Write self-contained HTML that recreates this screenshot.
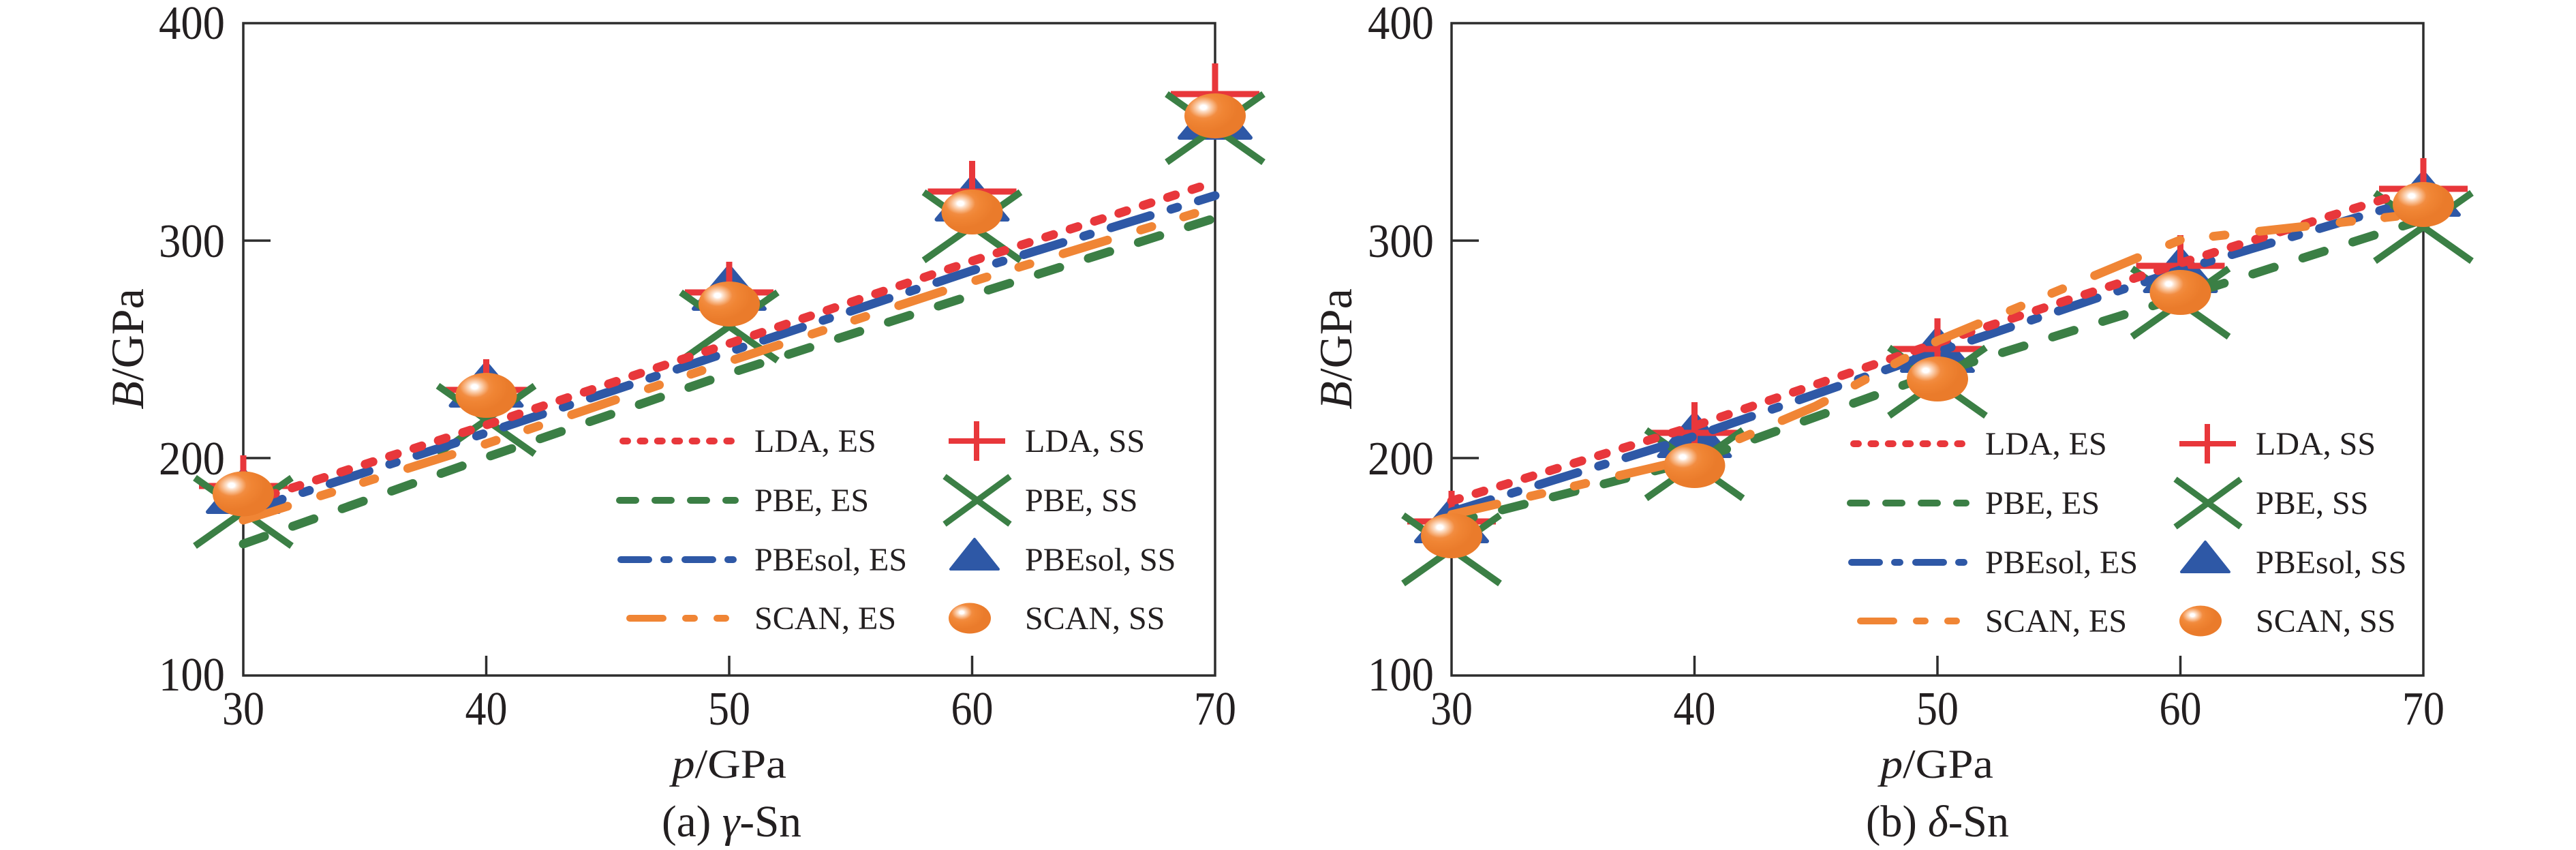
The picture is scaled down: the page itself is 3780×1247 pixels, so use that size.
<!DOCTYPE html>
<html>
<head>
<meta charset="utf-8">
<style>
  html,body{margin:0;padding:0;background:#fff;}
  svg{display:block;}
  svg text{font-family:"Liberation Serif", serif;fill:#231f20;}
</style>
</head>
<body>
<svg width="3780" height="1247" viewBox="0 0 3780 1247" xmlns="http://www.w3.org/2000/svg" font-family="'Liberation Serif', serif">
<defs>
  <radialGradient id="ball" cx="0.31" cy="0.31" r="0.55" fx="0.31" fy="0.31">
    <stop offset="0" stop-color="#ffffff"/>
    <stop offset="0.09" stop-color="#ffffff"/>
    <stop offset="0.16" stop-color="#fde2cd"/>
    <stop offset="0.30" stop-color="#f8b684"/>
    <stop offset="0.44" stop-color="#f28c40"/>
    <stop offset="0.6" stop-color="#f08534"/>
    <stop offset="1" stop-color="#ea7b2b"/>
  </radialGradient>
</defs>
<rect width="3780" height="1247" fill="#fff"/>

<!-- ================= LEFT PLOT ================= -->
<g fill="none" stroke="#2d2d2d" stroke-width="3.5">
  <rect x="357" y="34" width="1426" height="957"/>
  <path d="M357 672 H397 M357 353 H397 M713.5 991 V962 M1070 991 V962 M1426.5 991 V962"/>
</g>
<g font-size="70" font-family="'Liberation Serif', serif">
  <text x="233" y="57" textLength="97" lengthAdjust="spacingAndGlyphs">400</text>
  <text x="233" y="377" textLength="97" lengthAdjust="spacingAndGlyphs">300</text>
  <text x="233" y="696" textLength="97" lengthAdjust="spacingAndGlyphs">200</text>
  <text x="233" y="1013" textLength="97" lengthAdjust="spacingAndGlyphs">100</text>
  <text x="326" y="1063" textLength="62" lengthAdjust="spacingAndGlyphs">30</text>
  <text x="682.5" y="1063" textLength="62" lengthAdjust="spacingAndGlyphs">40</text>
  <text x="1039" y="1063" textLength="62" lengthAdjust="spacingAndGlyphs">50</text>
  <text x="1395.5" y="1063" textLength="62" lengthAdjust="spacingAndGlyphs">60</text>
  <text x="1752" y="1063" textLength="62" lengthAdjust="spacingAndGlyphs">70</text>
</g>
<text transform="translate(210,512) rotate(-90)" text-anchor="middle" font-size="68" font-family="'Liberation Serif', serif"><tspan font-style="italic">B</tspan>/GPa</text>
<text x="986" y="1141" font-size="60" textLength="168" lengthAdjust="spacingAndGlyphs" font-family="'Liberation Serif', serif"><tspan font-style="italic">p</tspan>/GPa</text>
<text x="971" y="1227" font-size="66" textLength="205" lengthAdjust="spacingAndGlyphs" font-family="'Liberation Serif', serif">(a) <tspan font-style="italic">γ</tspan>-Sn</text>

<!-- triangles -->
<g fill="#2e58a6" stroke="#2e58a6" stroke-width="6" stroke-linejoin="round">
  <polygon points="357,689 305,751 409,751"/>
  <polygon points="713.5,533 661.5,595 765.5,595"/>
  <polygon points="1070,391 1018,453 1122,453"/>
  <polygon points="1426.5,260 1374.5,322 1478.5,322"/>
  <polygon points="1783,140 1731,202 1835,202"/>
</g>
<!-- plus -->
<path fill="none" stroke="#e8373b" stroke-width="9" d="M292 713 H422 M357 668 V758 M648.5 572 H778.5 M713.5 527 V617 M1005 429 H1135 M1070 384 V474 M1361.5 281 H1491.5 M1426.5 236 V326 M1718 138 H1848 M1783 93 V183"/>
<!-- X -->
<path fill="none" stroke="#3b7f45" stroke-width="10" d="M286 701 L428 801 M286 801 L428 701 M642.5 566 L784.5 666 M642.5 666 L784.5 566 M999 429 L1141 529 M999 529 L1141 429 M1355.5 282 L1497.5 382 M1355.5 382 L1497.5 282 M1712 138 L1854 238 M1712 238 L1854 138"/>
<!-- lines -->
<g fill="none" stroke-width="13" stroke-linecap="round" stroke-linejoin="round">
  <polyline stroke="#3b7f45" stroke-dasharray="33 44" points="357,798 713.5,671 1070,548 1426.5,433 1783,320"/>
  <polyline stroke="#f08535" stroke-dasharray="68 51 17 49 17 51" points="357,763 713.5,651 1070,530 1426.5,413 1783,304"/>
  <polyline stroke="#2e58a6" stroke-dasharray="60 32 10 32" points="357,751 713.5,635 1070,516 1426.5,397 1783,287"/>
  <polyline stroke="#e8373b" stroke-dasharray="12 25.6" points="357,739 713.5,623.5 1070,504 1426.5,383 1783,267"/>
</g>
<!-- ellipses -->
<g fill="url(#ball)">
  <ellipse cx="357" cy="724.5" rx="45" ry="33"/>
  <ellipse cx="713.5" cy="580" rx="45" ry="33"/>
  <ellipse cx="1070" cy="446" rx="45" ry="33"/>
  <ellipse cx="1426.5" cy="311" rx="45" ry="33"/>
  <ellipse cx="1783" cy="170" rx="45" ry="33"/>
</g>

<!-- left legend -->
<g fill="none" stroke-width="10" stroke-linecap="round">
  <line x1="914" y1="647" x2="1073" y2="647" stroke="#e8373b" stroke-dasharray="7 18.4"/>
  <line x1="909" y1="734" x2="1079" y2="734" stroke="#3b7f45" stroke-dasharray="24 28"/>
  <line x1="911" y1="821" x2="1077" y2="821" stroke="#2e58a6" stroke-dasharray="41 22 8 23"/>
  <line x1="924" y1="907" x2="1065" y2="907" stroke="#f08535" stroke-dasharray="49 33 13 33 13 33"/>
</g>
<path fill="none" stroke="#e8373b" stroke-width="8" d="M1392 647 H1475 M1433 618 V676"/>
<path fill="none" stroke="#3b7f45" stroke-width="9" d="M1386 699 L1482 769 M1386 769 L1482 699"/>
<polygon points="1430,791 1395,835 1465,835" fill="#2e58a6" stroke="#2e58a6" stroke-width="4" stroke-linejoin="round"/>
<ellipse cx="1423" cy="907" rx="31" ry="22.5" fill="url(#ball)"/>
<g font-size="48" font-family="'Liberation Serif', serif">
  <text x="1107" y="663">LDA, ES</text>
  <text x="1107" y="750">PBE, ES</text>
  <text x="1107" y="837">PBEsol, ES</text>
  <text x="1107" y="923">SCAN, ES</text>
  <text x="1504" y="663">LDA, SS</text>
  <text x="1504" y="750">PBE, SS</text>
  <text x="1504" y="837">PBEsol, SS</text>
  <text x="1504" y="923">SCAN, SS</text>
</g>

<!-- ================= RIGHT PLOT ================= -->
<g fill="none" stroke="#2d2d2d" stroke-width="3.5">
  <rect x="2130" y="34" width="1426" height="957"/>
  <path d="M2130 672 H2170 M2130 353 H2170 M2486.5 991 V962 M2843 991 V962 M3199.5 991 V962"/>
</g>
<g font-size="70" font-family="'Liberation Serif', serif">
  <text x="2007" y="57" textLength="97" lengthAdjust="spacingAndGlyphs">400</text>
  <text x="2007" y="377" textLength="97" lengthAdjust="spacingAndGlyphs">300</text>
  <text x="2007" y="696" textLength="97" lengthAdjust="spacingAndGlyphs">200</text>
  <text x="2007" y="1013" textLength="97" lengthAdjust="spacingAndGlyphs">100</text>
  <text x="2099" y="1063" textLength="62" lengthAdjust="spacingAndGlyphs">30</text>
  <text x="2455.5" y="1063" textLength="62" lengthAdjust="spacingAndGlyphs">40</text>
  <text x="2812" y="1063" textLength="62" lengthAdjust="spacingAndGlyphs">50</text>
  <text x="3168.5" y="1063" textLength="62" lengthAdjust="spacingAndGlyphs">60</text>
  <text x="3525" y="1063" textLength="62" lengthAdjust="spacingAndGlyphs">70</text>
</g>
<text transform="translate(1983,512) rotate(-90)" text-anchor="middle" font-size="68" font-family="'Liberation Serif', serif"><tspan font-style="italic">B</tspan>/GPa</text>
<text x="2759" y="1141" font-size="60" textLength="166" lengthAdjust="spacingAndGlyphs" font-family="'Liberation Serif', serif"><tspan font-style="italic">p</tspan>/GPa</text>
<text x="2738" y="1227" font-size="66" textLength="210" lengthAdjust="spacingAndGlyphs" font-family="'Liberation Serif', serif">(b) <tspan font-style="italic">δ</tspan>-Sn</text>

<g fill="#2e58a6" stroke="#2e58a6" stroke-width="6" stroke-linejoin="round">
  <polygon points="2130,732 2078,794 2182,794"/>
  <polygon points="2486.5,607 2434.5,669 2538.5,669"/>
  <polygon points="2843,482 2791,544 2895,544"/>
  <polygon points="3199.5,365 3147.5,427 3251.5,427"/>
  <polygon points="3556,253 3504,315 3608,315"/>
</g>
<path fill="none" stroke="#e8373b" stroke-width="9" d="M2065 765 H2195 M2130 720 V810 M2421.5 635 H2551.5 M2486.5 590 V680 M2778 512 H2908 M2843 467 V557 M3134.5 390 H3264.5 M3199.5 345 V435 M3491 277 H3621 M3556 232 V322"/>
<path fill="none" stroke="#3b7f45" stroke-width="10" d="M2059 756 L2201 856 M2059 856 L2201 756 M2415.5 631 L2557.5 731 M2415.5 731 L2557.5 631 M2772 510 L2914 610 M2772 610 L2914 510 M3128.5 394 L3270.5 494 M3128.5 494 L3270.5 394 M3485 283 L3627 383 M3485 383 L3627 283"/>
<g fill="none" stroke-width="13" stroke-linecap="round" stroke-linejoin="round">
  <polyline stroke="#3b7f45" stroke-dasharray="33 44" points="2130,767 2486.5,676 2843,547 3199.5,436 3556,322"/>
  <polyline stroke="#2e58a6" stroke-dasharray="60 32 10 32" points="2130,751 2486.5,640 2843,516 3199.5,396 3556,290"/>
  <polyline stroke="#e8373b" stroke-dasharray="12 25.6" points="2130,735 2486.5,625 2843,503 3199.5,386 3556,274"/>
  <polyline stroke="#f08535" stroke-dasharray="68 51 17 49 17 51" points="2130,755 2486.5,672 2664,596 2843,500 3199.5,352 3556,313"/>
</g>
<g fill="url(#ball)">
  <ellipse cx="2130" cy="786" rx="45" ry="33"/>
  <ellipse cx="2486.5" cy="683" rx="45" ry="33"/>
  <ellipse cx="2843" cy="556" rx="45" ry="33"/>
  <ellipse cx="3199.5" cy="429" rx="45" ry="33"/>
  <ellipse cx="3556" cy="300" rx="45" ry="33"/>
</g>

<!-- right legend -->
<g fill="none" stroke-width="10" stroke-linecap="round">
  <line x1="2720" y1="651" x2="2879" y2="651" stroke="#e8373b" stroke-dasharray="7 18.4"/>
  <line x1="2715" y1="738" x2="2885" y2="738" stroke="#3b7f45" stroke-dasharray="24 28"/>
  <line x1="2717" y1="825" x2="2883" y2="825" stroke="#2e58a6" stroke-dasharray="41 22 8 23"/>
  <line x1="2730" y1="911" x2="2871" y2="911" stroke="#f08535" stroke-dasharray="49 33 13 33 13 33"/>
</g>
<path fill="none" stroke="#e8373b" stroke-width="8" d="M3198 651 H3281 M3239 622 V680"/>
<path fill="none" stroke="#3b7f45" stroke-width="9" d="M3192 703 L3288 773 M3192 773 L3288 703"/>
<polygon points="3236,795 3201,839 3271,839" fill="#2e58a6" stroke="#2e58a6" stroke-width="4" stroke-linejoin="round"/>
<ellipse cx="3229" cy="911" rx="31" ry="22.5" fill="url(#ball)"/>
<g font-size="48" font-family="'Liberation Serif', serif">
  <text x="2913" y="667">LDA, ES</text>
  <text x="2913" y="754">PBE, ES</text>
  <text x="2913" y="841">PBEsol, ES</text>
  <text x="2913" y="927">SCAN, ES</text>
  <text x="3310" y="667">LDA, SS</text>
  <text x="3310" y="754">PBE, SS</text>
  <text x="3310" y="841">PBEsol, SS</text>
  <text x="3310" y="927">SCAN, SS</text>
</g>
</svg>
</body>
</html>
